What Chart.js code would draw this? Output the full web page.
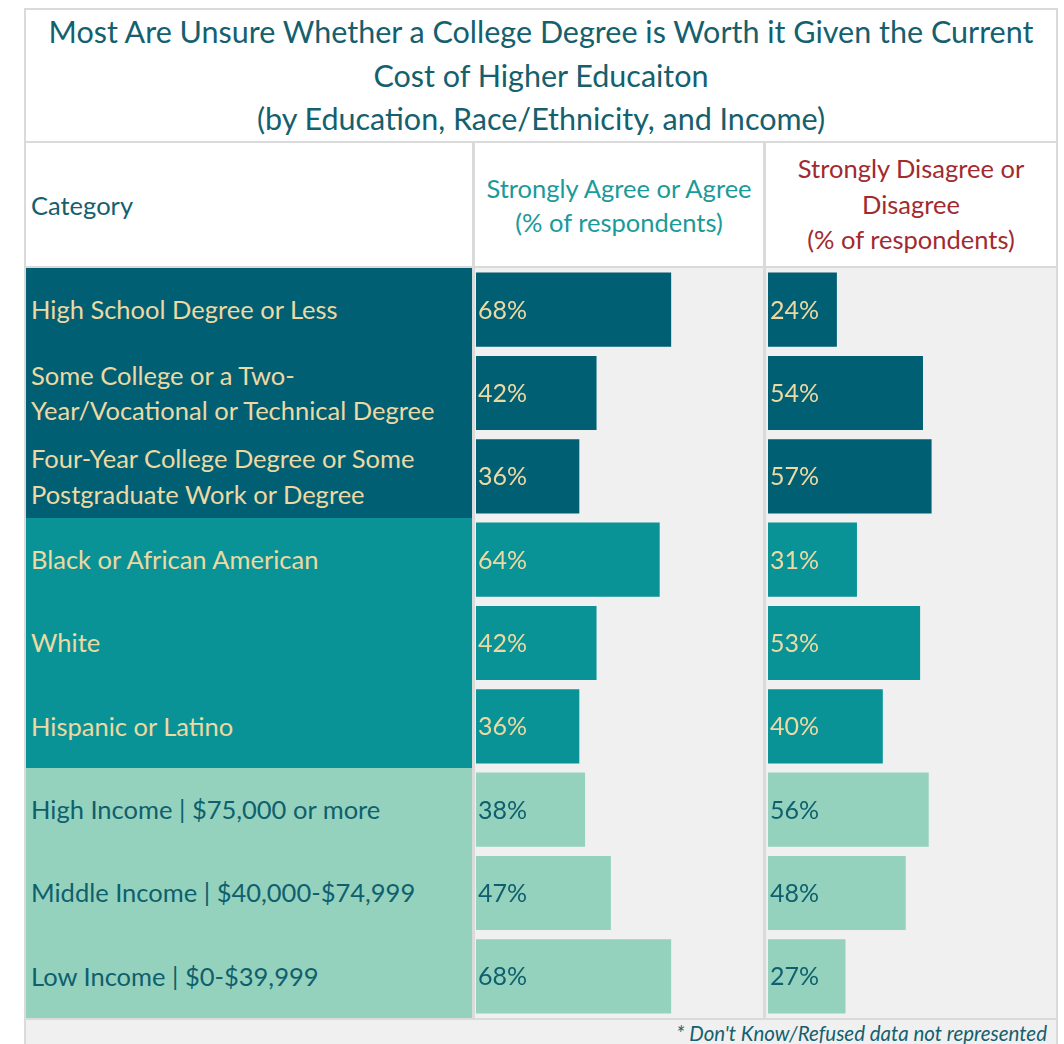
<!DOCTYPE html>
<html>
<head>
<meta charset="utf-8">
<script src="https://cdn.jsdelivr.net/npm/chart.js@4.4.1/dist/chart.umd.min.js"></script>
<style>
  body { margin: 0; background: #fff; font-family: Lato, "Open Sans", sans-serif; }
  #wrap { position: relative; width: 1064px; height: 1044px; overflow: hidden; }
  .frame { position: absolute; left: 24px; top: 8px; width: 1034px; height: 1040px; background: #dadada; }
  .cell { position: absolute; box-sizing: border-box; }
  .title { left: 26px; top: 10px; width: 1030px; height: 131px; background: #fff; color: #14606e;
           text-align: center; font-size: 30.5px; line-height: 43.5px; }
  .head { top: 143px; height: 123px; background: #fff; display: flex; align-items: center; font-size: 25.5px; }
  .bars { top: 268px; height: 750px; background: #f0f0f0; }
  .catrow { position: absolute; left: 26px; width: 446px; display: flex; align-items: center;
            box-sizing: border-box; padding-left: 5px; font-size: 25.5px; line-height: 35.5px; }
  .foot { left: 26px; top: 1020px; width: 1030px; height: 30px; background: #f0f0f0; color: #14606e;
          font-style: italic; font-size: 20.5px; text-align: right; padding-right: 9px; line-height: 27px; }
  canvas { position: absolute; }
</style>
</head>
<body>
<div id="wrap">
  <div class="frame"></div>
  <div class="cell title">Most Are Unsure Whether a College Degree is Worth it Given the Current<br>Cost of Higher Educaiton<br>(by Education, Race/Ethnicity, and Income)</div>
  <div class="cell head" style="left:26px;width:446px;padding-left:5px;color:#14606e;">Category</div>
  <div class="cell head" style="left:475px;width:288px;justify-content:center;text-align:center;color:#1b9a9a;line-height:34px;">Strongly Agree or Agree<br>(% of respondents)</div>
  <div class="cell head" style="left:766px;width:290px;justify-content:center;text-align:center;color:#a12a2e;line-height:35.5px;">Strongly Disagree or<br>Disagree<br>(% of respondents)</div>
  <div class="cell bars" style="left:475px;width:288px;"></div>
  <div class="cell bars" style="left:766px;width:290px;"></div>
  <div id="cats"></div>
  <div class="cell foot">* Don't Know/Refused data not represented</div>
  <canvas id="agreeChart" style="left:476px;top:268px;" width="287" height="750"></canvas>
  <canvas id="disagreeChart" style="left:768px;top:268px;" width="287" height="750"></canvas>
</div>
<script>
// Data
const categories = [
  ["High School Degree or Less"],
  ["Some College or a Two-", "Year/Vocational or Technical Degree"],
  ["Four-Year College Degree or Some", "Postgraduate Work or Degree"],
  ["Black or African American"],
  ["White"],
  ["Hispanic or Latino"],
  ["High Income | $75,000 or more"],
  ["Middle Income | $40,000-$74,999"],
  ["Low Income | $0-$39,999"]
];
const groups = ["education", "education", "education", "race", "race", "race", "income", "income", "income"];
const agreeValues = [68, 42, 36, 64, 42, 36, 38, 47, 68];
const disagreeValues = [24, 54, 57, 31, 53, 40, 56, 48, 27];

// Farben je Gruppe
const groupFill = { education: "#005f73", race: "#0a9396", income: "#94d2bd" };
const groupText = { education: "#ecd9a4", race: "#ecd9a4", income: "#0f5f6e" };

// Kategorie-Spalte
const rowH = 750 / categories.length;
const catBox = document.getElementById("cats");
categories.forEach((lines, i) => {
  const d = document.createElement("div");
  d.className = "catrow";
  d.style.top = (268 + i * rowH) + "px";
  d.style.height = (rowH + 0.5) + "px";
  d.style.background = groupFill[groups[i]];
  d.style.color = groupText[groups[i]];
  d.innerHTML = lines.join("<br>");
  catBox.appendChild(d);
});

// Prozentwerte auf die Balken schreiben
const valueLabels = {
  id: "valueLabels",
  afterDatasetsDraw(chart) {
    const ctx = chart.ctx;
    const meta = chart.getDatasetMeta(0);
    ctx.save();
    ctx.font = '25px Lato, "Open Sans", sans-serif';
    ctx.textBaseline = "middle";
    ctx.textAlign = "left";
    meta.data.forEach((bar, i) => {
      ctx.fillStyle = groupText[groups[i]];
      ctx.fillText(chart.data.datasets[0].data[i] + "%", bar.base + 2, bar.y + 1);
    });
    ctx.restore();
  }
};

function makeChart(id, values) {
  return new Chart(document.getElementById(id), {
    type: "bar",
    data: {
      labels: categories,
      datasets: [{
        data: values,
        backgroundColor: groups.map(g => groupFill[g]),
        borderWidth: 0,
        barPercentage: 0.89,
        categoryPercentage: 1
      }]
    },
    options: {
      indexAxis: "y",
      responsive: false,
      animation: false,
      layout: { padding: 0 },
      plugins: { legend: { display: false }, tooltip: { enabled: false } },
      scales: {
        x: { min: 0, max: 100, display: false },
        y: { display: false }
      }
    },
    plugins: [valueLabels]
  });
}

makeChart("agreeChart", agreeValues);
makeChart("disagreeChart", disagreeValues);
</script>
</body>
</html>
